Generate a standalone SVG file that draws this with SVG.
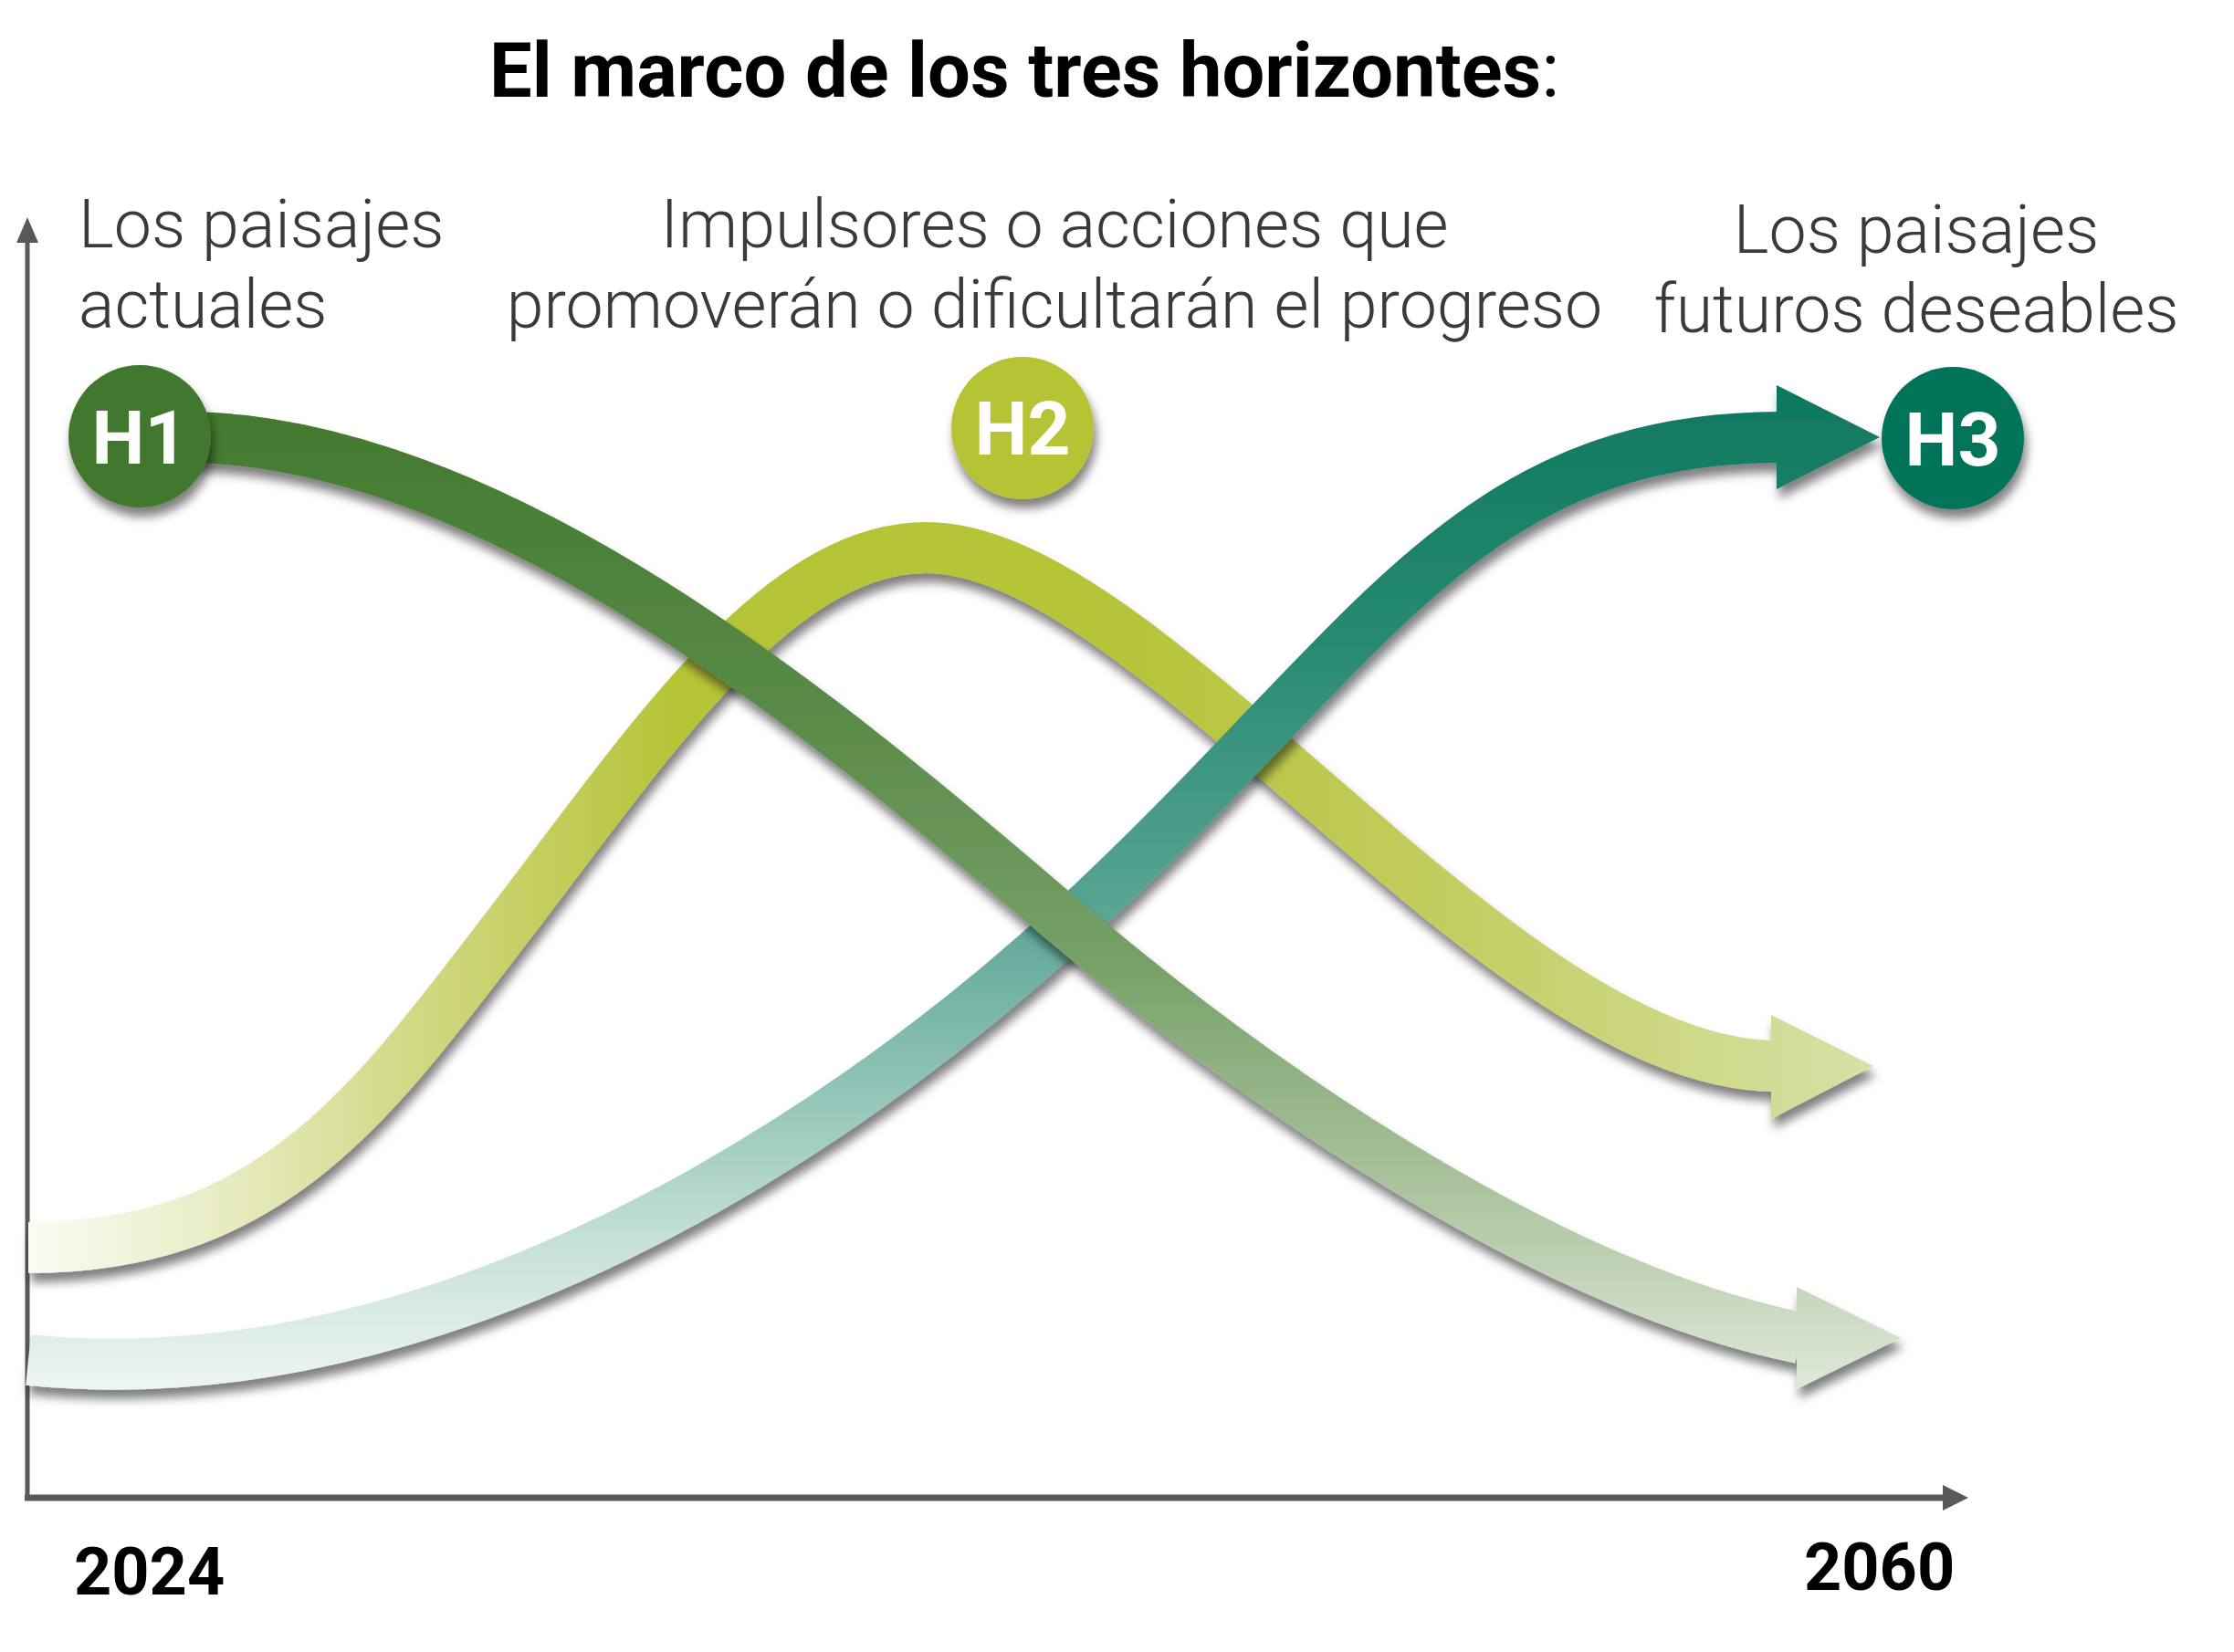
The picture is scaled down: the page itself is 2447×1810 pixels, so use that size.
<svg xmlns="http://www.w3.org/2000/svg" width="2447" height="1810" viewBox="0 0 2447 1810">
<defs>
<style>
.title{font-family:Roboto,"Liberation Sans",sans-serif;font-weight:700;font-size:83px;fill:#000}
.lbl{font-family:Roboto,"Liberation Sans",sans-serif;font-weight:300;font-size:73.5px;fill:#3a3a3a}
.mid{text-anchor:middle}
.year{font-family:Roboto,"Liberation Sans",sans-serif;font-weight:700;font-size:72px;fill:#000}
.hl{font-family:Roboto,"Liberation Sans",sans-serif;font-weight:700;font-size:82px;fill:#fff;text-anchor:middle}
.band{fill:none;stroke-width:56;stroke-linecap:butt}
.axis{stroke:#595959;fill:none}
.axhead{fill:#595959}
</style>
<filter id="sh" filterUnits="userSpaceOnUse" x="0" y="0" width="2447" height="1810">
<feDropShadow dx="3" dy="10" stdDeviation="5.5" flood-color="#000" flood-opacity="0.5"/>
</filter>
<linearGradient id="g1" gradientUnits="userSpaceOnUse" x1="0" y1="460" x2="0" y2="1530">
<stop offset="0" stop-color="#437a2f"/>
<stop offset="0.3" stop-color="#5a8a48"/>
<stop offset="0.55" stop-color="#76a067"/>
<stop offset="0.78" stop-color="#a9c29c"/>
<stop offset="1" stop-color="#e2eadb"/>
</linearGradient>
<linearGradient id="g2" gradientUnits="userSpaceOnUse" x1="28" y1="0" x2="2055" y2="0">
<stop offset="0" stop-color="#fbfbf4"/>
<stop offset="0.1" stop-color="#eaedc6"/>
<stop offset="0.2" stop-color="#d3da8a"/>
<stop offset="0.35" stop-color="#b6c439"/>
<stop offset="0.6" stop-color="#b7c43a"/>
<stop offset="0.78" stop-color="#c3ce63"/>
<stop offset="1" stop-color="#d8e1a8"/>
</linearGradient>
<linearGradient id="g3" gradientUnits="userSpaceOnUse" x1="0" y1="430" x2="0" y2="1530">
<stop offset="0" stop-color="#0f7860"/>
<stop offset="0.25" stop-color="#288a72"/>
<stop offset="0.5" stop-color="#56a392"/>
<stop offset="0.7" stop-color="#93c5b8"/>
<stop offset="0.85" stop-color="#c7e1d9"/>
<stop offset="1" stop-color="#eff6f3"/>
</linearGradient>
</defs>
<rect width="2447" height="1810" fill="#fff"/>

<g id="title">
<text class="title" x="536" y="106">El marco de los tres horizontes<tspan font-weight="400">:</tspan></text>
</g>

<g id="axes">
<line class="axis" x1="30" y1="256" x2="30" y2="1644" stroke-width="5"/>
<polygon class="axhead" points="30,238 18,266 42,266"/>
<line class="axis" x1="27" y1="1641" x2="2135" y2="1641" stroke-width="7"/>
<polygon class="axhead" points="2156,1641 2128,1627 2128,1655"/>
</g>

<g id="labels">
<g id="label-h1"><text class="lbl" x="86" y="271">Los paisajes</text><text class="lbl" x="86" y="359">actuales</text></g>
<g id="label-h2"><text class="lbl mid" x="1155" y="271">Impulsores o acciones que</text><text class="lbl mid" x="1155" y="359">promoverán o dificultarán el progreso</text></g>
<g id="label-h3"><text class="lbl mid" x="2099" y="277">Los paisajes</text><text class="lbl mid" x="2099" y="364">futuros deseables</text></g>
</g>

<g id="connectors">
<g id="curve-h2" filter="url(#sh)">
<path class="band" stroke="url(#g2)" d="M31,1367 C300,1367 410,1205 560,1010 C710,815 850,600 1015,600 C1260,600 1640,1165 1944,1168"/>
<polygon fill="url(#g2)" points="1940,1112 2052,1168 1940,1226"/>
</g>
<g id="curve-h3" filter="url(#sh)">
<path class="band" stroke="url(#g3)" d="M31,1490 C480,1535 920,1244 1170,1014 C1500,710 1600,480 1950,479"/>
<polygon fill="url(#g3)" points="1946,422 2059,479 1946,536"/>
</g>
<g id="curve-h1" filter="url(#sh)">
<path class="band" stroke="url(#g1)" d="M200,479 C560,479 953,828 1173,1015 C1373,1185 1692,1409 1972,1466"/>
<polygon fill="url(#g1)" points="1968,1410 2082,1466 1968,1522"/>
</g>
</g>

<g id="node-h1" filter="url(#sh)">
<circle cx="153" cy="478" r="78" fill="#42782f"/>
<text class="hl" x="153" y="508">H1</text>
</g>
<g id="node-h2" filter="url(#sh)">
<circle cx="1120" cy="469" r="78" fill="#b5c336"/>
<text class="hl" x="1120" y="498">H2</text>
</g>
<g id="node-h3" filter="url(#sh)">
<circle cx="2139" cy="480" r="78" fill="#057358"/>
<text class="hl" x="2139" y="510">H3</text>
</g>

<g id="years">
<text class="year" x="81" y="1747">2024</text>
<text class="year" x="1976" y="1742">2060</text>
</g>
</svg>
